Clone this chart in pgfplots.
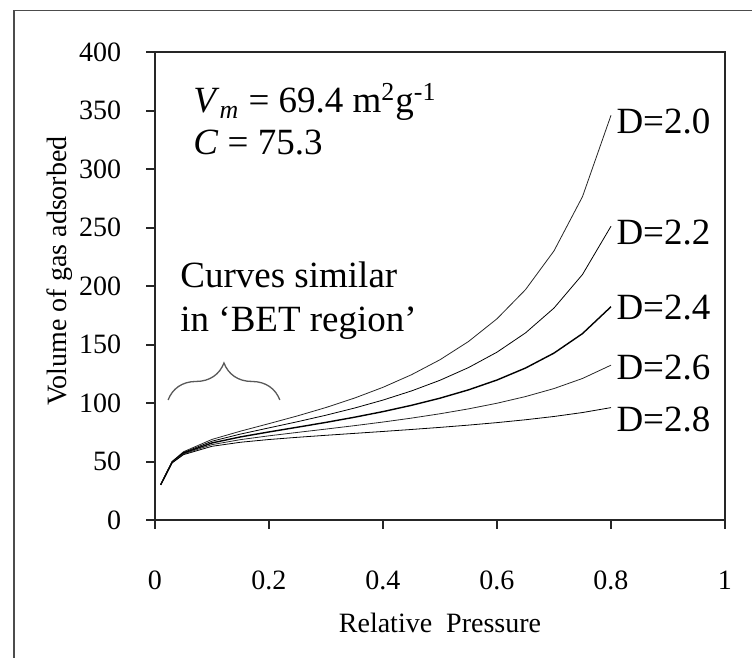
\documentclass[border=0pt]{standalone}
\usepackage{fontspec}
\setmainfont{Liberation Serif}
\usepackage{pgfplots}
\usepackage{pgfplotstable}
\pgfplotsset{compat=1.18}
\usetikzlibrary{decorations.pathreplacing}

% volume adsorbed vs relative pressure, one column per fractal dimension D
\pgfplotstableread{
x    d20    d22    d24    d26    d28
0.01 30.28  30.22  30.15  30.09  30.03
0.03 50.05  49.73  49.41  49.09  48.77
0.05 58.33  57.70  57.08  56.46  55.85
0.10 68.88  67.36  65.87  64.42  63.00
0.15 75.93  73.44  71.03  68.70  66.45
0.20 82.37  78.74  75.27  71.96  68.79
0.25 88.99  84.01  79.31  74.88  70.69
0.30 96.16  89.57  83.44  77.72  72.40
0.35 104.20 95.67  87.84  80.64  74.04
0.40 113.41 102.50 92.64  83.73  75.68
0.45 124.17 110.32 98.02  87.09  77.38
0.50 136.98 119.43 104.13 90.80  79.16
0.55 152.56 130.27 111.23 94.98  81.10
0.60 171.98 143.45 119.65 99.80  83.24
0.65 196.88 159.91 129.88 105.50 85.68
0.70 230.02 181.15 142.66 112.35 88.48
0.75 276.38 209.84 159.33 120.97 91.85
0.80 345.90 251.09 182.28 132.33 96.06
}\isotherms

\begin{document}
\begin{tikzpicture}
\useasboundingbox (0,0) rectangle (376pt,-329pt);
\begin{axis}[
    at={(77.5pt,-260pt)}, anchor=south west,
    scale only axis,
    width=285pt, height=234pt,
    xmin=0, xmax=1, ymin=0, ymax=400,
    xtick={0,0.2,...,1}, ytick={0,50,...,400},
    xtick pos=bottom, ytick pos=left,
    tick align=outside,
    major tick length=4.25pt,
    axis line style={line width=1pt, black!85},
    every tick/.style={line width=1pt, black!85},
    /pgf/number format/assume math mode=true,
    tick label style={font=\fontsize{14}{16}\selectfont, inner sep=0pt},
    yticklabel style={anchor=east, xshift=-12.5pt},
    xticklabel style={anchor=north, yshift=-21pt},
    clip=false,
    cycle list={{black!85, no markers, line width=0.7pt}},
]
\addplot+[sharp plot] table[x=x, y=d20] {\isotherms};
\addplot+[sharp plot] table[x=x, y=d22] {\isotherms};
\addplot+[sharp plot] table[x=x, y=d24] {\isotherms};
\addplot+[sharp plot] table[x=x, y=d26] {\isotherms};
\addplot+[sharp plot] table[x=x, y=d28] {\isotherms};

\begin{scope}[every node/.style={font=\fontsize{18.5}{22}\selectfont, inner sep=0pt}]
\node[anchor=west] at (axis cs:0.809,341) {D=2.0};
\node[anchor=west] at (axis cs:0.809,245.3) {D=2.2};
\node[anchor=west] at (axis cs:0.809,182) {D=2.4};
\node[anchor=west] at (axis cs:0.809,130) {D=2.6};
\node[anchor=west] at (axis cs:0.809,86.3) {D=2.8};
\node[anchor=base west] at (axis cs:0.0667,347.9)
    {\textit{V}\textsubscript{\textit{m}} = 69.4 m\textsuperscript{2}g\textsuperscript{-1}};
\node[anchor=base west] at (axis cs:0.0667,312.0) {\textit{C} = 75.3};
\node[anchor=base west] at (axis cs:0.0439,198.3) {Curves similar};
\node[anchor=base west] at (axis cs:0.0439,160.7) {in `BET region'};
\end{scope}
\draw[decorate, decoration={brace, amplitude=18.5pt}, line width=0.65pt, black!65]
    (axis cs:0.023,102.6) -- (axis cs:0.219,102.6);
\end{axis}

\node[rotate=90, anchor=base, inner sep=0pt, font=\fontsize{14}{16}\selectfont]
    at (33.5pt,-135.5pt) {Volume of gas adsorbed};
\node[anchor=base, inner sep=0pt, font=\fontsize{14}{16}\selectfont]
    at (220pt,-316.5pt) {Relative\ \ Pressure};

% outer frame (only its left and top edges are in the picture)
\draw[line width=0.75pt, black!70] (7pt,-329pt) -- (7pt,-5.35pt) -- (376pt,-5.35pt);
\end{tikzpicture}
\end{document}
